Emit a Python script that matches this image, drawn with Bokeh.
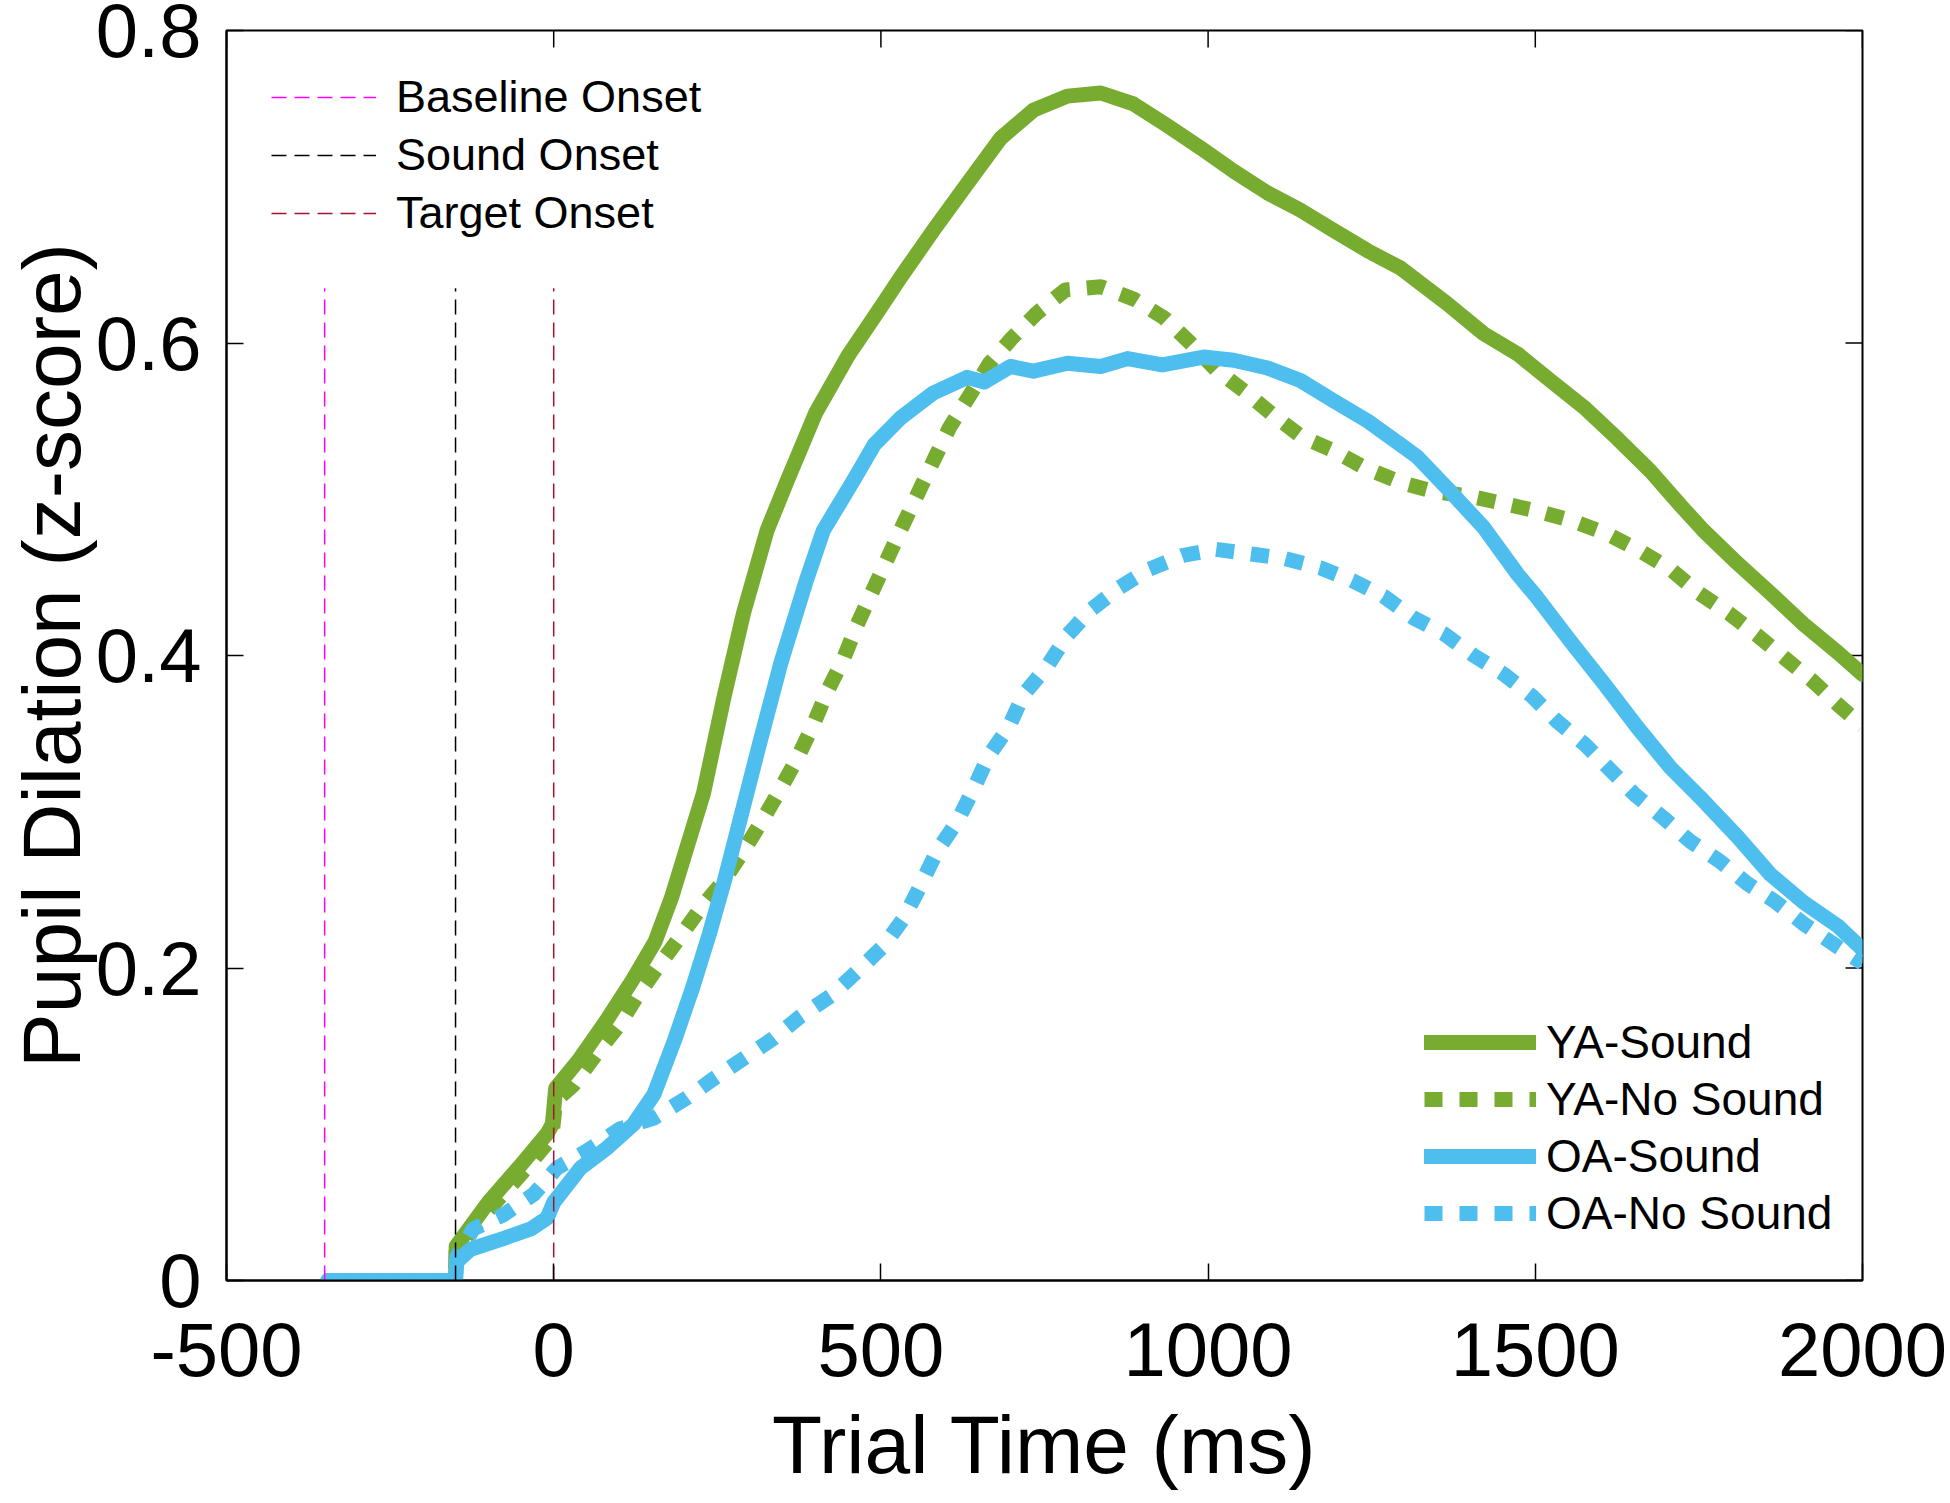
import math
from bokeh.plotting import figure
from bokeh.models import Range1d, FixedTicker, Legend, LegendItem
from bokeh.embed import file_html
from bokeh.resources import INLINE

# ---------------- data ----------------
ya_sound_t = [-345, -150, -149, -100, -50, -10, -2, 3, 40, 80, 120, 155, 180, 229, 260, 290, 326,
              357, 400, 450, 500, 530, 580, 632, 683, 733, 785, 836, 886, 938, 988, 1039, 1091,
              1141, 1192, 1244, 1294, 1366, 1421, 1473, 1523, 1574, 1625, 1676, 1722, 1757,
              1809, 1859, 1910, 1962, 2000]
ya_sound_v = [0, 0, 0.022, 0.05, 0.074, 0.094, 0.1, 0.123, 0.142, 0.166, 0.192, 0.217, 0.245,
              0.312, 0.373, 0.427, 0.48, 0.512, 0.555, 0.592, 0.623, 0.642, 0.672, 0.702, 0.731,
              0.749, 0.758, 0.76, 0.753, 0.739, 0.725, 0.71, 0.696, 0.685, 0.672, 0.659, 0.648,
              0.625, 0.606, 0.593, 0.576, 0.559, 0.539, 0.518, 0.496, 0.48, 0.459, 0.44, 0.42,
              0.402, 0.388]

ya_nosound_t = [-345, -150, -149, -100, -50, -10, -2, 3, 30, 65, 101, 126, 158, 188, 224, 260,
                290, 321, 347, 372, 397, 418, 443, 464, 487, 510, 533, 558, 583, 605, 638, 666,
                700, 738, 782, 836, 887, 933, 973, 1012, 1056, 1099, 1143, 1192, 1240, 1293,
                1344, 1400, 1454, 1507, 1558, 1609, 1660, 1707, 1750, 1796, 1839, 1882, 1923,
                1964, 2000]
ya_nosound_v = [0, 0, 0.02, 0.045, 0.068, 0.088, 0.095, 0.115, 0.125, 0.145, 0.164, 0.181, 0.2,
                0.217, 0.238, 0.256, 0.275, 0.296, 0.315, 0.334, 0.356, 0.377, 0.398, 0.42,
                0.441, 0.462, 0.483, 0.505, 0.527, 0.546, 0.568, 0.587, 0.603, 0.619, 0.634,
                0.636, 0.628, 0.616, 0.6, 0.583, 0.569, 0.554, 0.54, 0.531, 0.52, 0.511, 0.505,
                0.502, 0.497, 0.492, 0.486, 0.478, 0.467, 0.455, 0.44, 0.427, 0.413, 0.398,
                0.384, 0.368, 0.355]

oa_sound_t = [-345, -150, -148, -127, -76, -35, -10, 0, 41, 82, 122, 153, 184, 212, 238, 261,
              313, 347, 386, 412, 458, 490, 530, 580, 632, 658, 698, 733, 785, 836, 877, 930,
              993, 1039, 1091, 1141, 1192, 1244, 1294, 1320, 1370, 1421, 1473, 1503, 1554,
              1605, 1656, 1707, 1757, 1809, 1859, 1910, 1962, 2000]
oa_sound_v = [0, 0, 0.012, 0.02, 0.027, 0.033, 0.04, 0.05, 0.072, 0.085, 0.1, 0.119, 0.153,
              0.187, 0.222, 0.256, 0.341, 0.395, 0.448, 0.48, 0.512, 0.535, 0.552, 0.568, 0.578,
              0.575, 0.585, 0.582, 0.587, 0.585, 0.59, 0.586, 0.591, 0.589, 0.584, 0.576, 0.563,
              0.55, 0.535, 0.527, 0.505, 0.482, 0.452, 0.437, 0.409, 0.382, 0.354, 0.328, 0.307,
              0.284, 0.26, 0.242, 0.227, 0.212]

oa_nosound_t = [-345, -150, -148, -123, -77, -31, 5, 51, 101, 153, 204, 244, 290, 336, 377, 423,
                464, 504, 535, 556, 586, 617, 642, 665, 695, 718, 754, 785, 820, 863, 909, 961,
                1011, 1065, 1118, 1172, 1220, 1268, 1314, 1360, 1406, 1452, 1495, 1533, 1576,
                1614, 1652, 1696, 1737, 1783, 1824, 1865, 1911, 1957, 2000]
oa_nosound_v = [0, 0, 0.015, 0.033, 0.042, 0.055, 0.072, 0.083, 0.097, 0.104, 0.117, 0.129,
                0.142, 0.155, 0.169, 0.182, 0.198, 0.214, 0.232, 0.249, 0.275, 0.294, 0.315,
                0.336, 0.354, 0.375, 0.393, 0.413, 0.429, 0.443, 0.455, 0.464, 0.468, 0.465,
                0.462, 0.456, 0.448, 0.438, 0.424, 0.414, 0.4, 0.388, 0.374, 0.358, 0.343,
                0.327, 0.311, 0.296, 0.281, 0.268, 0.254, 0.243, 0.228, 0.215, 0.203]

series_labels = ["YA-Sound", "YA-No Sound", "OA-Sound", "OA-No Sound"]
series_colors = ["#77AC30", "#77AC30", "#4DBEEE", "#4DBEEE"]
series_dotted = [False, True, False, True]

onset_times = [-350, -150, 0]
onset_labels = ["Baseline Onset", "Sound Onset", "Target Onset"]
onset_colors = ["#FF00FF", "#000000", "#A2142F"]
onset_bottom = 0.0
onset_top = 0.635

x_min, x_max = -500, 2000
y_min, y_max = 0, 0.8
x_ticks = [-500, 0, 500, 1000, 1500, 2000]
x_tick_labels = ["-500", "0", "500", "1000", "1500", "2000"]
y_ticks = [0, 0.2, 0.4, 0.6, 0.8]
y_tick_labels = ["0", "0.2", "0.4", "0.6", "0.8"]

FONT = "Liberation Sans"
TICK_LEN = 17

# ---------------- figure ----------------
p = figure(width=1948, height=1500, output_backend="svg", toolbar_location=None,
           x_range=Range1d(x_min, x_max), y_range=Range1d(y_min, y_max),
           min_border_left=226, min_border_right=86, min_border_top=30, min_border_bottom=220,
           x_axis_label="Trial Time (ms)", y_axis_label="Pupil Dilation (z-score)")
p.grid.visible = False
p.background_fill_color = "white"
p.border_fill_color = "white"
p.outline_line_color = "black"
p.outline_line_width = 2

for ax, ticks, labels in ((p.xaxis[0], x_ticks, x_tick_labels), (p.yaxis[0], y_ticks, y_tick_labels)):
    ax.ticker = FixedTicker(ticks=ticks)
    ax.major_label_overrides = dict(zip(ticks, labels))
    ax.major_label_text_font = FONT
    ax.major_label_text_font_size = "76px"
    ax.major_label_text_color = "black"
    ax.axis_label_text_font = FONT
    ax.axis_label_text_font_size = "82px"
    ax.axis_label_text_font_style = "normal"
    ax.axis_label_text_color = "black"
    ax.major_tick_in = TICK_LEN
    ax.major_tick_out = 0
    ax.major_tick_line_width = 1.5
    ax.major_tick_line_color = "black"
    ax.minor_tick_line_color = None
    ax.axis_line_color = "black"
    ax.axis_line_width = 2

p.xaxis[0].major_label_standoff = 42
p.xaxis[0].axis_label_standoff = 20
p.yaxis[0].major_label_standoff = 25
p.yaxis[0].axis_label_standoff = -4

# mirrored inward ticks on top and right edges of the box
p.ray(x=x_ticks, y=[y_max] * len(x_ticks), length=TICK_LEN, length_units="screen",
      angle=-math.pi / 2, line_color="black", line_width=1.5)
p.ray(x=[x_max] * len(y_ticks), y=y_ticks, length=TICK_LEN, length_units="screen",
      angle=math.pi, line_color="black", line_width=1.5)

# ---------------- curves ----------------
all_t = [ya_sound_t, ya_nosound_t, oa_sound_t, oa_nosound_t]
all_v = [ya_sound_v, ya_nosound_v, oa_sound_v, oa_nosound_v]
curve_items = []
for t, v, lab, col, dotted in zip(all_t, all_v, series_labels, series_colors, series_dotted):
    if dotted:
        r = p.line(t, v, line_color=col, line_width=15, line_dash="18 17",
                   line_cap="butt", line_join="round")
    else:
        r = p.line(t, v, line_color=col, line_width=15, line_cap="round", line_join="round")
    curve_items.append(LegendItem(label=lab, renderers=[r]))

# ---------------- onset markers ----------------
onset_items = []
for xt, lab, col in zip(onset_times, onset_labels, onset_colors):
    r = p.line([xt, xt], [onset_bottom, onset_top], line_color=col, line_width=1.5,
               line_dash="15 8")
    onset_items.append(LegendItem(label=lab, renderers=[r]))

def style_legend(lg, glyph_w, standoff, fsize, spacing):
    lg.label_text_font = FONT
    lg.label_text_font_size = fsize
    lg.label_text_color = "black"
    lg.glyph_width = glyph_w
    lg.glyph_height = 52
    lg.spacing = spacing
    lg.padding = 10
    lg.margin = 0
    lg.label_standoff = standoff
    lg.border_line_alpha = 0
    lg.background_fill_alpha = 0

leg_top = Legend(items=onset_items, location=(35, 1031))
style_legend(leg_top, 105, 20, "45px", 6)
leg_bot = Legend(items=curve_items, location=(1188, 30))
style_legend(leg_bot, 112, 10, "46px", 3)
p.add_layout(leg_top)
p.add_layout(leg_bot)

open("out.html", "w").write(file_html(p, INLINE))
